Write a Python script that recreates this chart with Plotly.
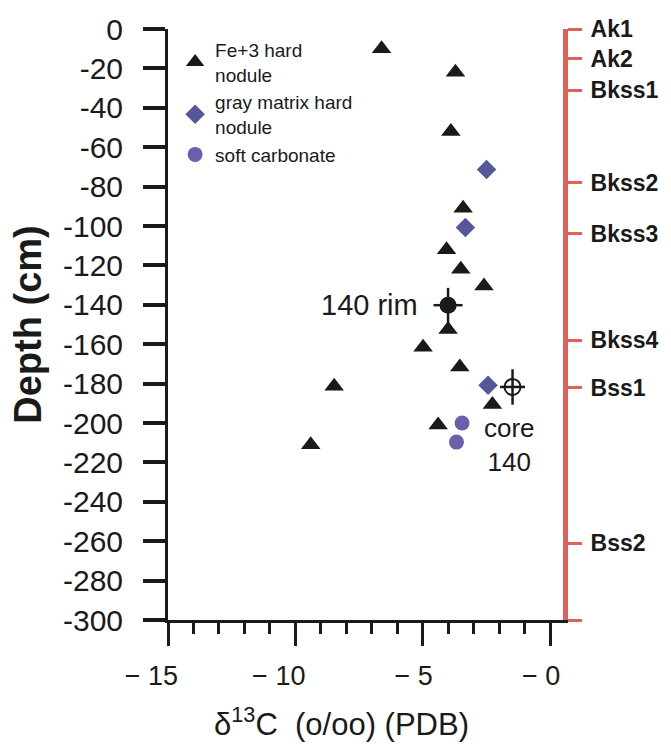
import plotly.graph_objects as go

# ---- data ----
fe3_x = [-6.62, -3.72, -3.90, -3.42, -4.07, -3.51, -2.60, -4.01, -4.99, -3.55, -8.48, -2.27, -4.40, -9.40]
fe3_y = [-10, -22, -52, -91, -112, -122, -130.5, -152.6, -161.5, -171.6, -181.3, -190.6, -201, -211]

gray_x = [-2.50, -3.33, -2.44]
gray_y = [-71.3, -100.7, -180.8]

soft_x = [-3.46, -3.68]
soft_y = [-200, -209.7]

rim_x, rim_y, rim_ex, rim_ey = [-4.01], [-140.2], [0.57], [8.8]
core_x, core_y, core_ex, core_ey = [-1.48], [-181.7], [0.49], [9.0]

y_ticks = [0, -20, -40, -60, -80, -100, -120, -140, -160, -180, -200, -220, -240, -260, -280, -300]
y_ticktext = ["-" + str(abs(v)) if v else "0" for v in y_ticks]
x_ticks = [-15, -10, -5, 0]
x_ticktext = ["− 15", "− 10", "− 5", "− 0"]

horizon_depths = [0, -15, -31, -78, -104, -158, -182, -261, -300]
horizon_names = ["Ak1", "Ak2", "Bkss1", "Bkss2", "Bkss3", "Bkss4", "Bss1", "Bss2", ""]

FONT = "Liberation Sans, Arial, sans-serif"
INK = "#1a1a1a"
RED = "#e0605a"

ML, MR, MT, MB = 168, 108, 23, 128
W, H = 671, 748

fig = go.Figure()

fig.add_trace(go.Scatter(
    x=fe3_x, y=fe3_y, mode="markers", name="Fe+3 hard<br>nodule",
    marker=dict(symbol="triangle-up", size=17, color=INK, line=dict(width=0)),
))
fig.add_trace(go.Scatter(
    x=gray_x, y=gray_y, mode="markers", name="gray matrix hard<br>nodule",
    marker=dict(symbol="diamond", size=15, color="#56569a", line=dict(width=0)),
))
fig.add_trace(go.Scatter(
    x=soft_x, y=soft_y, mode="markers", name="soft carbonate",
    marker=dict(symbol="circle", size=15, color="#6a5fac", line=dict(width=0)),
))
fig.add_trace(go.Scatter(
    x=rim_x, y=rim_y, mode="markers", name="140 rim", showlegend=False,
    marker=dict(symbol="circle", size=17, color=INK, line=dict(width=0)),
    error_x=dict(type="data", array=rim_ex, color=INK, thickness=2.5, width=0),
    error_y=dict(type="data", array=rim_ey, color=INK, thickness=2.5, width=0),
))
fig.add_trace(go.Scatter(
    x=core_x, y=core_y, mode="markers", name="core 140", showlegend=False,
    marker=dict(symbol="circle", size=16, color="rgba(0,0,0,0)", line=dict(width=2, color=INK)),
    error_x=dict(type="data", array=core_ex, color=INK, thickness=2.5, width=0),
    error_y=dict(type="data", array=core_ey, color=INK, thickness=2.5, width=0),
))
# invisible trace to activate the right-hand horizon axis
fig.add_trace(go.Scatter(x=[None], y=[None], yaxis="y2", showlegend=False, hoverinfo="skip"))

fig.update_layout(
    width=W, height=H,
    margin=dict(l=ML, r=MR, t=MT, b=MB),
    paper_bgcolor="white", plot_bgcolor="white",
    font=dict(family=FONT, color=INK),
    showlegend=True,
    legend=dict(
        x=0.018, y=0.997, xanchor="left", yanchor="top",
        font=dict(size=19, family=FONT, color=INK),
        bgcolor="rgba(0,0,0,0)", tracegroupgap=0, itemwidth=30,
    ),
    xaxis=dict(
        range=[-15, 0.5], showgrid=False, zeroline=False,
        showline=True, linecolor=INK, linewidth=3,
        tickmode="array", tickvals=x_ticks, ticktext=x_ticktext,
        ticks="outside", ticklen=23, tickwidth=3, tickcolor=INK,
        ticklabelposition="outside left", ticklabelstandoff=30, ticklabelshift=13,
        tickfont=dict(size=27, family=FONT, color=INK),
        minor=dict(dtick=1, ticks="outside", ticklen=11, tickwidth=2.5, tickcolor=INK, showgrid=False),
    ),
    yaxis=dict(
        range=[-300, 0], showgrid=False, zeroline=False,
        showline=True, linecolor=INK, linewidth=3,
        tickmode="array", tickvals=y_ticks, ticktext=y_ticktext,
        ticks="outside", ticklen=22, tickwidth=3.5, tickcolor=INK,
        ticklabelstandoff=14,
        tickfont=dict(size=30, family=FONT, color=INK),
        title=dict(text="<b>Depth (cm)</b>", font=dict(size=38, family=FONT, color=INK), standoff=10),
    ),
    yaxis2=dict(
        range=[-300, 0], overlaying="y", side="right", anchor="x",
        showgrid=False, zeroline=False,
        showline=True, linecolor=RED, linewidth=5,
        tickmode="array", tickvals=horizon_depths, ticktext=horizon_names,
        ticks="outside", ticklen=14, tickwidth=2.5, tickcolor=RED,
        ticklabelstandoff=4,
        tickfont=dict(size=23, family=FONT, color=INK, weight="bold"),
    ),
)

fig.add_annotation(
    x=rim_x[0], y=rim_y[0], xref="x", yref="y", text="140 rim", showarrow=False,
    xanchor="right", yanchor="middle", xshift=-28, font=dict(size=29, family=FONT, color=INK),
)
fig.add_annotation(
    x=core_x[0], y=core_y[0], xref="x", yref="y", text="core<br>140", showarrow=False,
    xanchor="center", yanchor="middle", xshift=-3, yshift=-58, align="center",
    font=dict(size=26, family=FONT, color=INK),
)
fig.add_annotation(
    x=(341 - ML) / (W - ML - MR), y=(H - MB - 723) / (H - MT - MB),
    xref="paper", yref="paper", xanchor="center", yanchor="middle",
    text="δ<sup>13</sup>C  (o/oo) (PDB)", showarrow=False,
    font=dict(size=31, family=FONT, color=INK),
)

fig.write_html("out.html")
